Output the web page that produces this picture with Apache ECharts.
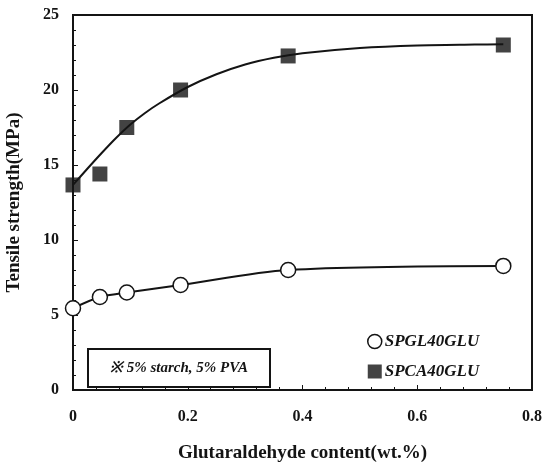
<!DOCTYPE html>
<html><head><meta charset="utf-8">
<script src="https://cdn.jsdelivr.net/npm/echarts@6/dist/echarts.min.js"></script>
<style>html,body{margin:0;padding:0;background:#fff}#c{width:544px;height:463px}</style>
</head><body><div id="c"></div>
<script>
// Glutaraldehyde content (wt.%)
const glutaraldehyde = [0, 0.046875, 0.09375, 0.1875, 0.375, 0.75];
// Tensile strength (MPa)
const spgl40glu = [5.45, 6.2, 6.5, 7.0, 8.0, 8.27];
const spca40glu = [13.67, 14.4, 17.5, 20.0, 22.27, 23.0];
// fitted curve drawn through the SPCA points
const spcaCurveX = [0, 0.025, 0.05, 0.075, 0.1, 0.125, 0.15, 0.2, 0.25, 0.3, 0.35, 0.4, 0.5, 0.6, 0.7, 0.75];
const spcaCurveY = [13.67, 14.75, 15.8, 16.8, 17.7, 18.45, 19.1, 20.2, 21.05, 21.7, 22.15, 22.45, 22.8, 22.97, 23.03, 23.05];
const xTicks = ['0', '0.2', '0.4', '0.6', '0.8'];
const yTicks = ['0', '5', '10', '15', '20', '25'];
const seriesNames = ['SPGL40GLU', 'SPCA40GLU'];
const noteText = '※ 5% starch, 5% PVA';

const pair = (xs, ys) => xs.map((x, i) => [x, ys[i]]);
const serif = '"Liberation Serif", "DejaVu Serif", serif';
const ink = '#141414';

const chart = echarts.init(document.getElementById('c'), null, {renderer: 'canvas'});
chart.setOption({
  animation: false,
  backgroundColor: '#fff',
  grid: {left: 73, right: 12, top: 15, bottom: 73, outerBoundsMode: 'none', containLabel: false,
    show: true, borderColor: ink, borderWidth: 2, backgroundColor: 'transparent'},
  xAxis: {
    type: 'value', min: 0, max: 0.8, interval: 0.2,
    name: 'Glutaraldehyde content(wt.%)', nameLocation: 'middle', nameGap: 54,
    nameTextStyle: {fontFamily: serif, fontWeight: 'bold', fontSize: 19, color: ink},
    axisLine: {lineStyle: {color: ink, width: 2}},
    axisTick: {inside: true, length: 5, lineStyle: {color: ink}},
    minorTick: {show: true, splitNumber: 5, length: 3, lineStyle: {color: ink}},
    splitLine: {show: false},
    axisLabel: {margin: 19, fontFamily: serif, fontWeight: 'bold', fontSize: 16, color: ink,
      formatter: v => xTicks[Math.round(v / 0.2)]}
  },
  yAxis: {
    type: 'value', min: 0, max: 25, interval: 5,
    name: 'Tensile strength(MPa)', nameLocation: 'middle', nameGap: 49, nameRotate: 90,
    nameTextStyle: {fontFamily: serif, fontWeight: 'bold', fontSize: 19, color: ink},
    axisLine: {lineStyle: {color: ink, width: 2}},
    axisTick: {inside: true, length: 5, lineStyle: {color: ink}},
    minorTick: {show: true, splitNumber: 5, length: 3, lineStyle: {color: ink}},
    splitLine: {show: false},
    axisLabel: {margin: 14, fontFamily: serif, fontWeight: 'bold', fontSize: 16, color: ink,
      formatter: v => yTicks[Math.round(v / 5)]}
  },
  legend: {
    orient: 'vertical', left: 362, top: 328, itemWidth: 14, itemHeight: 14, itemGap: 13,
    textStyle: {fontFamily: serif, fontStyle: 'italic', fontWeight: 'bold', fontSize: 17, color: ink, padding: [0,0,0,-2]},
    data: [
      {name: seriesNames[0], icon: 'circle', itemStyle: {color: '#fff', borderColor: ink, borderWidth: 1.5}},
      {name: seriesNames[1], icon: 'rect', itemStyle: {color: ink, borderWidth: 0}}
    ]
  },
  series: [
    {
      name: 'fit', type: 'line', data: pair(spcaCurveX, spcaCurveY), smooth: 0.3,
      showSymbol: false, symbol: 'none', lineStyle: {color: ink, width: 2}, z: 2, silent: true
    },
    {
      name: seriesNames[1], type: 'scatter', data: pair(glutaraldehyde, spca40glu),
      symbol: 'rect', symbolSize: 15, itemStyle: {color: ink}, z: 4
    },
    {
      name: seriesNames[0], type: 'line', data: pair(glutaraldehyde, spgl40glu), smooth: 0.3,
      symbol: 'circle', symbolSize: 15, showSymbol: true,
      lineStyle: {color: ink, width: 2},
      itemStyle: {color: '#fff', borderColor: ink, borderWidth: 1.5}, z: 3
    }
  ],
  graphic: [
    {type: 'rect', shape: {x: 88, y: 349, width: 182, height: 38}, style: {fill: '#fff', stroke: ink, lineWidth: 2}, z: 10},
    {type: 'text', x: 179, y: 368, style: {text: noteText, fontFamily: serif, fontStyle: 'italic', fontWeight: 'bold', fontSize: 15, fill: ink, textAlign: 'center', textVerticalAlign: 'middle'}, z: 11}
  ]
});
</script></body></html>
